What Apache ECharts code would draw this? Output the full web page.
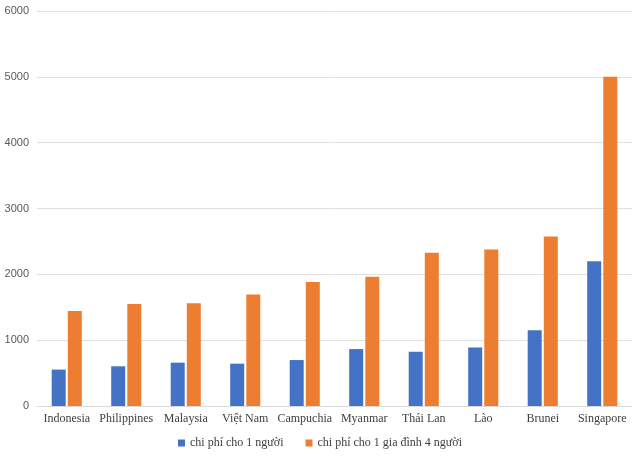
<!DOCTYPE html>
<html><head><meta charset="utf-8">
<script src="https://cdn.jsdelivr.net/npm/echarts@6/dist/echarts.min.js"></script>
<style>html,body{margin:0;padding:0;background:#fff}#c{width:640px;height:460px}</style>
</head><body><div id="c"></div>
<script>
const categories = ['Indonesia','Philippines','Malaysia','Việt Nam','Campuchia','Myanmar','Thái Lan','Lào','Brunei','Singapore'];
const perPerson = [553, 603, 658, 643, 698, 864, 824, 889, 1151, 2200];
const family4 = [1444, 1551, 1561, 1692, 1884, 1965, 2328, 2379, 2576, 5000];
const seriesNames = ['chi phí cho 1 người', 'chi phí cho 1 gia đình 4 người'];
const yTicks = [0, 1000, 2000, 3000, 4000, 5000, 6000];

const chart = echarts.init(document.getElementById('c'));
chart.setOption({
  animation: false,
  color: ['#4472C4', '#ED7D31'],
  grid: {left: 37, right: 8, top: 11, bottom: 54},
  legend: {
    bottom: 6, left: 'center', itemWidth: 7, itemHeight: 7, itemGap: 22, icon: 'rect',
    textStyle: {fontFamily: 'Liberation Serif', fontSize: 12, color: '#404040'},
    data: seriesNames
  },
  xAxis: {
    type: 'category', data: categories,
    axisLine: {lineStyle: {color: '#d9d9d9'}},
    axisTick: {show: false},
    axisLabel: {fontFamily: 'Liberation Serif', fontSize: 12, color: '#404040', margin: 7, interval: 0}
  },
  yAxis: {
    type: 'value', min: yTicks[0], max: yTicks[yTicks.length-1], interval: 1000,
    axisLine: {show: false}, axisTick: {show: false},
    splitLine: {lineStyle: {color: '#e0e0e0'}},
    axisLabel: {fontFamily: 'Liberation Sans Narrow, Liberation Sans', fontSize: 11, color: '#595959', margin: 8,
      formatter: v => String(v)}
  },
  series: [
    {name: seriesNames[0], type: 'bar', data: perPerson, barWidth: 14, barGap: '15%'},
    {name: seriesNames[1], type: 'bar', data: family4, barWidth: 14, barGap: '15%'}
  ]
});
</script></body></html>
